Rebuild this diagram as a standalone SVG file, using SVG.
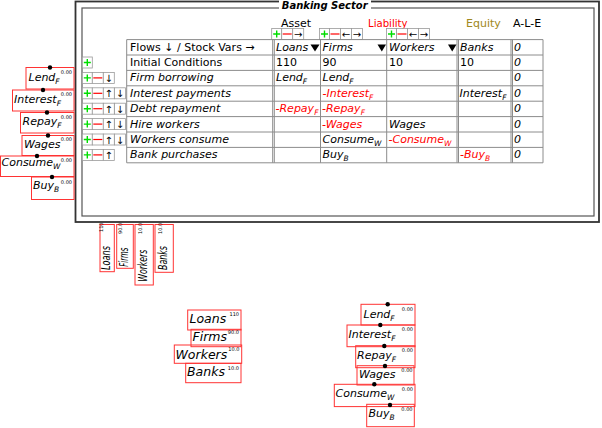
<svg xmlns="http://www.w3.org/2000/svg" xmlns:xlink="http://www.w3.org/1999/xlink" width="602" height="428" viewBox="0 0 602 428">
<style>
text{font-family:"DejaVu Sans","Liberation Sans",sans-serif;fill:#000}
.tb{font-size:11px}
.it{font-style:italic}
.r{fill:#f00}
.sub{font-size:7.5px}
.grid{stroke:#8c8c8c;stroke-width:1;fill:none}
.btn{fill:#fff;stroke:#9a9a9a;stroke-width:0.8}
.var{fill:none;stroke:#f33;stroke-width:1}
.lbl{font-size:11px;font-style:italic}
.rlbl{font-size:12px;font-style:italic}
.slbl{font-size:12.5px;font-style:italic}
.val{font-size:5px}
.arr{font-size:10px;text-anchor:middle}
</style>
<defs>
<g id="bplus"><rect class="btn" width="10" height="11"/><path d="M1.5,5.5h7M5,2v7" stroke="#0d0" stroke-width="1.4"/></g>
<g id="bminus"><rect class="btn" width="11" height="11"/><path d="M1,5.5h9" stroke="#f00" stroke-width="1.2"/></g>
<g id="bup"><rect class="btn" width="11" height="11"/><text class="arr" x="5.5" y="9.5">↑</text></g>
<g id="bdown"><rect class="btn" width="11" height="11"/><text class="arr" x="5.5" y="9.5">↓</text></g>
<g id="bleft"><rect class="btn" width="11" height="11"/><text class="arr" x="5.5" y="9.5">←</text></g>
<g id="bright"><rect class="btn" width="11" height="11"/><text class="arr" x="5.5" y="9.5">→</text></g>
</defs>

<g id="connectors"></g>

<g id="godley-banking-sector">
<rect x="75.5" y="1.5" width="523.5" height="220.5" fill="#fff" stroke="#333" stroke-width="1.8"/>
<rect x="82" y="8" width="512" height="208" fill="none" stroke="#555" stroke-width="1.2"/>
<rect x="279" y="0" width="92" height="9.5" fill="#fff"/>
<text x="324.7" y="8.5" text-anchor="middle" font-size="10" font-weight="bold" font-style="italic">Banking Sector</text>

<text class="tb" x="281" y="27">Asset</text>
<text class="tb r" x="368" y="27.3" textLength="39.5" lengthAdjust="spacingAndGlyphs">Liability</text>
<text class="tb" x="466" y="27.3" style="fill:#a08820">Equity</text>
<text class="tb" x="513" y="27.3">A-L-E</text>

<use xlink:href="#bplus" x="271.7" y="28.5"/>
<use xlink:href="#bminus" x="281.7" y="28.5"/>
<use xlink:href="#bright" x="292.7" y="28.5"/>
<use xlink:href="#bplus" x="319.5" y="28.5"/>
<use xlink:href="#bminus" x="329.5" y="28.5"/>
<use xlink:href="#bleft" x="340.5" y="28.5"/>
<use xlink:href="#bright" x="351.5" y="28.5"/>
<use xlink:href="#bplus" x="386.5" y="28.5"/>
<use xlink:href="#bminus" x="396.5" y="28.5"/>
<use xlink:href="#bleft" x="407.5" y="28.5"/>
<use xlink:href="#bright" x="418.5" y="28.5"/>

<path class="grid" d="M126.7,39.6H543M126.7,55H543M126.7,70.4H543M126.7,85.8H543M126.7,101.2H543M126.7,116.6H543M126.7,132H543M126.7,147.4H543M126.7,162.8H543
M126.7,39.6V162.8M272.7,39.6V162.8M274.3,39.6V162.8M320.5,39.6V162.8M386.7,39.6V162.8M457,39.6V162.8M458.5,39.6V162.8M511,39.6V162.8M512.5,39.6V162.8M543,39.6V162.8"/>

<use xlink:href="#bplus" x="82.3" y="57"/>
<use xlink:href="#bplus" x="82.3" y="72.4"/>
<use xlink:href="#bminus" x="92.3" y="72.4"/>
<use xlink:href="#bdown" x="103.3" y="72.4"/>
<use xlink:href="#bplus" x="82.3" y="87.8"/>
<use xlink:href="#bminus" x="92.3" y="87.8"/>
<use xlink:href="#bup" x="103.3" y="87.8"/>
<use xlink:href="#bdown" x="114.5" y="87.8"/>
<use xlink:href="#bplus" x="82.3" y="103.2"/>
<use xlink:href="#bminus" x="92.3" y="103.2"/>
<use xlink:href="#bup" x="103.3" y="103.2"/>
<use xlink:href="#bdown" x="114.5" y="103.2"/>
<use xlink:href="#bplus" x="82.3" y="118.6"/>
<use xlink:href="#bminus" x="92.3" y="118.6"/>
<use xlink:href="#bup" x="103.3" y="118.6"/>
<use xlink:href="#bdown" x="114.5" y="118.6"/>
<use xlink:href="#bplus" x="82.3" y="134"/>
<use xlink:href="#bminus" x="92.3" y="134"/>
<use xlink:href="#bup" x="103.3" y="134"/>
<use xlink:href="#bdown" x="114.5" y="134"/>
<use xlink:href="#bplus" x="82.3" y="149.4"/>
<use xlink:href="#bminus" x="92.3" y="149.4"/>
<use xlink:href="#bup" x="103.3" y="149.4"/>

<text class="tb" x="130" y="50.5">Flows ↓ / Stock Vars →</text>
<text class="tb it" x="276" y="50.5">Loans</text>
<polygon points="310.5,44.5 319.5,44.5 315,51.5"/>
<text class="tb it" x="322.5" y="50.5">Firms</text>
<polygon points="377.5,44.5 386,44.5 381.8,51.5"/>
<text class="tb it" x="389" y="50.5">Workers</text>
<polygon points="448,44.5 456.5,44.5 452.2,51.5"/>
<text class="tb it" x="460" y="50.5">Banks</text>
<text class="tb it" x="514" y="50.5">0</text>

<text class="tb" x="130" y="66">Initial Conditions</text>
<text class="tb" x="276" y="66">110</text>
<text class="tb" x="322.5" y="66">90</text>
<text class="tb" x="389" y="66">10</text>
<text class="tb" x="460" y="66">10</text>
<text class="tb it" x="514" y="66">0</text>

<text class="tb it" x="130" y="81.4">Firm borrowing</text>
<text class="tb it" x="276" y="81.4">Lend<tspan class="sub" dy="3">F</tspan></text>
<text class="tb it" x="322.5" y="81.4">Lend<tspan class="sub" dy="3">F</tspan></text>
<text class="tb it" x="514" y="81.4">0</text>

<text class="tb it" x="130" y="96.8">Interest payments</text>
<text class="tb it r" x="322.5" y="96.8">-Interest<tspan class="sub" dy="3">F</tspan></text>
<text class="tb it" x="459.5" y="96.8">Interest<tspan class="sub" dy="3">F</tspan></text>
<text class="tb it" x="514" y="96.8">0</text>

<text class="tb it" x="130" y="112.2">Debt repayment</text>
<text class="tb it r" x="275.5" y="112.2">-Repay<tspan class="sub" dy="3">F</tspan></text>
<text class="tb it r" x="322" y="112.2">-Repay<tspan class="sub" dy="3">F</tspan></text>
<text class="tb it" x="514" y="112.2">0</text>

<text class="tb it" x="130" y="127.6">Hire workers</text>
<text class="tb it r" x="322" y="127.6">-Wages</text>
<text class="tb it" x="389" y="127.6">Wages</text>
<text class="tb it" x="514" y="127.6">0</text>

<text class="tb it" x="130" y="143">Workers consume</text>
<text class="tb it" x="322.5" y="143">Consume<tspan class="sub" dy="3">W</tspan></text>
<text class="tb it r" x="388.5" y="143">-Consume<tspan class="sub" dy="3">W</tspan></text>
<text class="tb it" x="514" y="143">0</text>

<text class="tb it" x="130" y="158.4">Bank purchases</text>
<text class="tb it" x="322.5" y="158.4">Buy<tspan class="sub" dy="3">B</tspan></text>
<text class="tb it r" x="460" y="158.4">-Buy<tspan class="sub" dy="3">B</tspan></text>
<text class="tb it" x="514" y="158.4">0</text>
</g>

<!-- left flow variables -->
<g id="var-lendF-1"><rect class="var" x="26" y="67.5" width="48" height="21.5"/><text class="lbl" x="28.5" y="80.5">Lend<tspan class="sub" dy="3">F</tspan></text><text class="val" x="72" y="73.5" text-anchor="end">0.00</text><circle cx="50" cy="67.5" r="2.2"/></g>
<g id="var-interestF-1"><rect class="var" x="12.5" y="90" width="61.5" height="21"/><text class="lbl" x="14" y="103.3">Interest<tspan class="sub" dy="3">F</tspan></text><text class="val" x="72" y="96" text-anchor="end">0.00</text><circle cx="43" cy="90" r="2.2"/></g>
<g id="var-repayF-1"><rect class="var" x="20.5" y="112.5" width="53.5" height="20.5"/><text class="lbl" x="22.5" y="125">Repay<tspan class="sub" dy="3">F</tspan></text><text class="val" x="72" y="118.5" text-anchor="end">0.00</text><circle cx="47" cy="112.5" r="2.2"/></g>
<g id="var-wages-1"><rect class="var" x="22" y="135.5" width="52" height="20"/><text class="lbl" x="24" y="147.5">Wages</text><text class="val" x="72" y="141" text-anchor="end">0.00</text><circle cx="48" cy="135.5" r="2.2"/></g>
<g id="var-consumeW-1"><rect class="var" x="0.5" y="156" width="73.5" height="20.5"/><text class="lbl" x="1.5" y="166">Consume<tspan class="sub" dy="3">W</tspan></text><text class="val" x="72" y="161.5" text-anchor="end">0.00</text><circle cx="37" cy="156" r="2.2"/></g>
<g id="var-buyB-1"><rect class="var" x="31.5" y="177" width="42.5" height="22.5"/><text class="lbl" x="33" y="188.5">Buy<tspan class="sub" dy="3">B</tspan></text><text class="val" x="72" y="183.5" text-anchor="end">0.00</text><circle cx="52" cy="177" r="2.2"/></g>

<!-- rotated stock variables -->
<g id="stock-loans-1"><rect class="var" x="100" y="224.5" width="14.3" height="47.2"/><text class="rlbl" transform="translate(109.5,270) rotate(-90)" textLength="24" lengthAdjust="spacingAndGlyphs">Loans</text><text class="val" transform="translate(102.5,232) rotate(-90)">110</text></g>
<g id="stock-firms-1"><rect class="var" x="116.7" y="224.5" width="16.6" height="43.8"/><text class="rlbl" transform="translate(127.8,266.7) rotate(-90)" textLength="19" lengthAdjust="spacingAndGlyphs">Firms</text><text class="val" transform="translate(121.5,234) rotate(-90)">90.0</text></g>
<g id="stock-workers-1"><rect class="var" x="135" y="224.5" width="18.3" height="60.5"/><text class="rlbl" transform="translate(147,281.7) rotate(-90)" textLength="32" lengthAdjust="spacingAndGlyphs">Workers</text><text class="val" transform="translate(141.5,234) rotate(-90)">10.0</text></g>
<g id="stock-banks-1"><rect class="var" x="155" y="224.5" width="18.3" height="47.8"/><text class="rlbl" transform="translate(166.5,270) rotate(-90)" textLength="24" lengthAdjust="spacingAndGlyphs">Banks</text><text class="val" transform="translate(161.5,234) rotate(-90)">10.0</text></g>

<!-- bottom stock variables -->
<g id="stock-loans-2"><rect class="var" x="187.7" y="310" width="53.3" height="20"/><text class="slbl" x="189.5" y="323">Loans</text><text class="val" x="239" y="316" text-anchor="end">110</text></g>
<g id="stock-firms-2"><rect class="var" x="191" y="329.3" width="50" height="17.4"/><text class="slbl" x="192.5" y="340.8">Firms</text><text class="val" x="239" y="334" text-anchor="end">90.0</text></g>
<g id="stock-workers-2"><rect class="var" x="174.3" y="345" width="67.4" height="18.3"/><text class="slbl" x="175.5" y="358.5">Workers</text><text class="val" x="239.5" y="351" text-anchor="end">10.0</text></g>
<g id="stock-banks-2"><rect class="var" x="185.7" y="363.3" width="55.3" height="19.4"/><text class="slbl" x="187" y="376">Banks</text><text class="val" x="239" y="369.5" text-anchor="end">10.0</text></g>

<!-- bottom flow variables -->
<g id="var-lendF-2"><rect class="var" x="361" y="304.3" width="54" height="20.7"/><text class="lbl" x="363.5" y="317.7">Lend<tspan class="sub" dy="3">F</tspan></text><text class="val" x="413" y="310.5" text-anchor="end">0.00</text><circle cx="387.7" cy="304.3" r="2.2"/></g>
<g id="var-interestF-2"><rect class="var" x="347" y="325" width="68" height="21.7"/><text class="lbl" x="348.5" y="338.3">Interest<tspan class="sub" dy="3">F</tspan></text><text class="val" x="413" y="331" text-anchor="end">0.00</text><circle cx="380.3" cy="325" r="2.2"/></g>
<g id="var-repayF-2"><rect class="var" x="355.7" y="345.7" width="59.3" height="22"/><text class="lbl" x="357" y="359.3">Repay<tspan class="sub" dy="3">F</tspan></text><text class="val" x="413" y="352" text-anchor="end">0.00</text><circle cx="384.3" cy="346" r="2.2"/></g>
<g id="var-wages-2"><rect class="var" x="357" y="365.7" width="57" height="19.3"/><text class="lbl" x="359" y="378.3">Wages</text><text class="val" x="412.5" y="372" text-anchor="end">0.00</text><circle cx="385" cy="366" r="2.2"/></g>
<g id="var-consumeW-2"><rect class="var" x="334.3" y="384.3" width="80.7" height="22.3"/><text class="lbl" x="335.5" y="396.7">Consume<tspan class="sub" dy="3">W</tspan></text><text class="val" x="413" y="390.5" text-anchor="end">0.00</text><circle cx="374.3" cy="384.3" r="2.2"/></g>
<g id="var-buyB-2"><rect class="var" x="366.7" y="404.3" width="47.6" height="22.4"/><text class="lbl" x="368.5" y="416.7">Buy<tspan class="sub" dy="3">B</tspan></text><text class="val" x="412.5" y="411" text-anchor="end">0.00</text><circle cx="390" cy="405" r="2.2"/></g>
</svg>
